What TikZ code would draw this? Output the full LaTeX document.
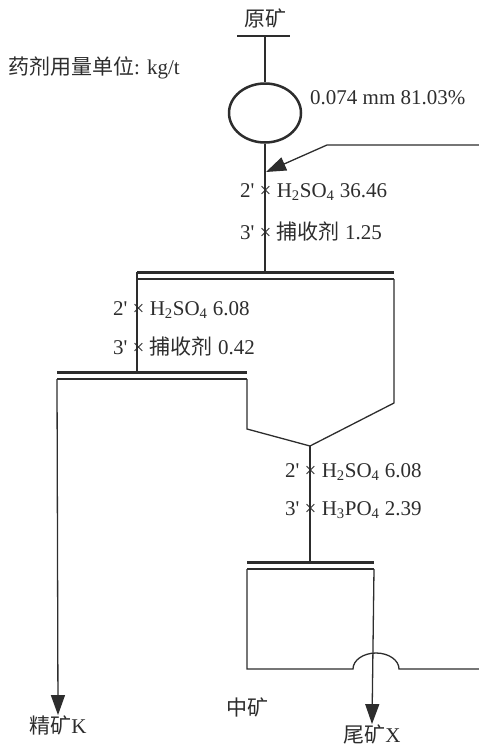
\documentclass[tikz,border=0pt]{standalone}
\usepackage{fontspec}
\setmainfont{Liberation Serif}
\newfontfamily\cjk{Noto Sans CJK SC}
\usetikzlibrary{arrows.meta,shapes.geometric}
\definecolor{inkGray}{RGB}{45,45,45}

\begin{document}
\begin{tikzpicture}[x=1pt, y=-1pt,
  every node/.style={font=\fontsize{21}{25}\selectfont, text=inkGray, inner sep=0pt},
  flow/.style={draw=inkGray, line width=1.3pt},
  bar/.style={draw=inkGray, line width=3pt},
  tip/.style={-{Triangle[length=20pt,width=14pt]}}]
  \useasboundingbox (0,0) rectangle (479,747);
  % feed and grinding
  \node (feed) at (265,18) {\cjk 原矿};
  \node[anchor=west] (unit) at (8,68) {{\cjk 药剂用量单位}: kg/t};
  \node[draw=inkGray, line width=2.5pt, ellipse, minimum width=72pt, minimum height=59pt]
    (mill) at (265,113) {};
  \node[anchor=west] (grind) at (310,98) {0.074 mm 81.03\%};
  \coordinate (feedL) at (237,36);
  \coordinate (feedR) at (290,36);
  \coordinate (feedM) at (265,36);
  \draw[flow] (feedL) -- (feedR);
  \draw[flow] (feedM) -- (mill.north);
  % return stream
  \coordinate (ret) at (479,145);
  \coordinate (retB) at (327,145);
  \coordinate (dose) at (266,172);
  \draw[flow, tip] (ret) -- (retB) -- (dose);
  % rougher
  \node[anchor=west] (r1a) at (240,192) {2\textquotesingle\ × H\textsubscript{2}SO\textsubscript{4} 36.46};
  \node[anchor=west] (r1b) at (240,232) {3\textquotesingle\ × {\cjk 捕收剂} 1.25};
  \coordinate (roL) at (137,272);
  \coordinate (roR) at (394,272);
  \coordinate (roM) at (265,272);
  \coordinate (roL2) at (137,279);
  \coordinate (roR2) at (394,279);
  \draw[flow] (mill.south) -- (roM);
  \draw[bar] (roL) -- (roR);
  \draw[flow] (roL2) -- (roR2);
  % cleaner
  \node[anchor=west] (c1a) at (113,310) {2\textquotesingle\ × H\textsubscript{2}SO\textsubscript{4} 6.08};
  \node[anchor=west] (c1b) at (113,347) {3\textquotesingle\ × {\cjk 捕收剂} 0.42};
  \coordinate (clL) at (57,372);
  \coordinate (clR) at (247,372);
  \coordinate (clM) at (137,372);
  \coordinate (clL2) at (57,379);
  \coordinate (clR2) at (247,379);
  \draw[flow] (roL) -- (clM);
  \draw[bar] (clL) -- (clR);
  \draw[flow] (clL2) -- (clR2);
  \node (conc) at (58,725) {{\cjk 精矿}K};
  \draw[flow, tip] (clL2) -- (conc.north);
  % join of cleaner tail and rougher tail
  \coordinate (clT) at (247,429);
  \coordinate (roT) at (394,403);
  \coordinate (mix) at (310,446);
  \draw[flow] (clR2) -- (clT) -- (mix);
  \draw[flow] (roR2) -- (roT) -- (mix);
  % scavenger
  \node[anchor=west] (s1a) at (285,472) {2\textquotesingle\ × H\textsubscript{2}SO\textsubscript{4} 6.08};
  \node[anchor=west] (s1b) at (285,510) {3\textquotesingle\ × H\textsubscript{3}PO\textsubscript{4} 2.39};
  \coordinate (scL) at (247,562);
  \coordinate (scR) at (374,562);
  \coordinate (scM) at (310,562);
  \coordinate (scL2) at (247,569);
  \coordinate (scR2) at (374,569);
  \draw[flow] (mix) -- (scM);
  \draw[bar] (scL) -- (scR);
  \draw[flow] (scL2) -- (scR2);
  \node (tail) at (372,734) {{\cjk 尾矿}X};
  \draw[flow, tip] (scR2) -- (tail.north);
  % middlings back to grinding
  \node (midd) at (247,707) {\cjk 中矿};
  \coordinate (miL) at (247,669);
  \coordinate (miA) at (353,669);
  \coordinate (miR) at (479,669);
  \draw[flow] (scL2) -- (miL) -- (miA)
    arc[start angle=180, end angle=0, x radius=23pt, y radius=16pt] -- (miR);
\end{tikzpicture}
\end{document}
